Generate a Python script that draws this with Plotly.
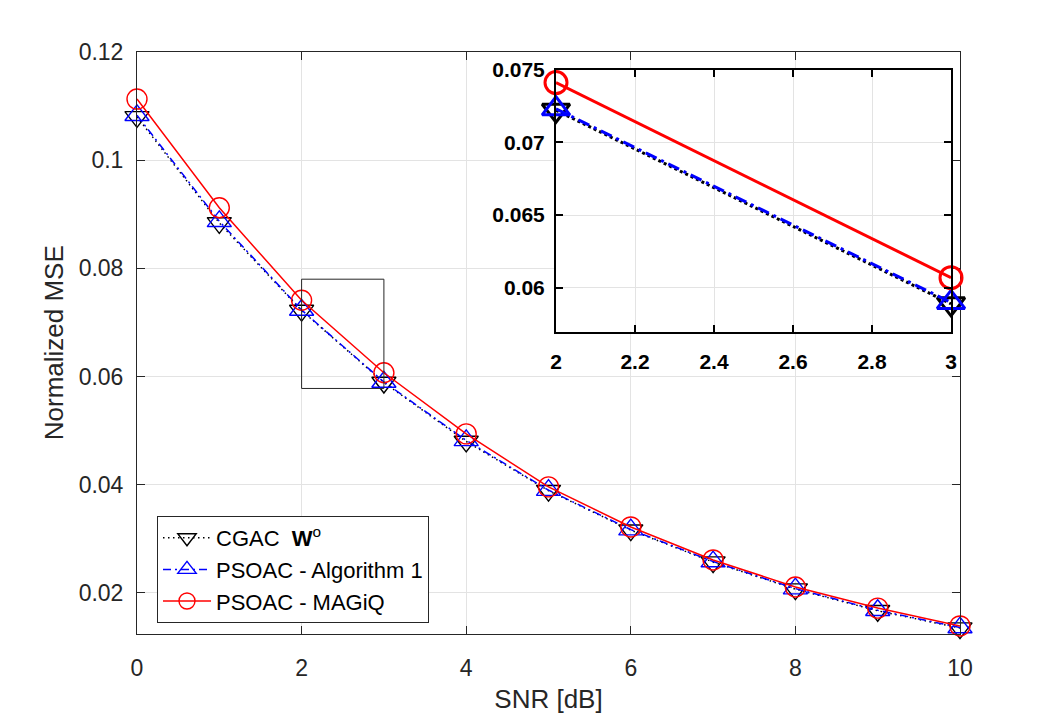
import plotly.graph_objects as go

# ---------------- data ----------------
snr = [0, 1, 2, 3, 4, 5, 6, 7, 8, 9, 10]
cgac_wo = [0.1080, 0.0884, 0.0722, 0.0589, 0.0480, 0.0389, 0.0316, 0.0257, 0.0207, 0.0167, 0.0135]
psoac_alg1 = [0.1083, 0.0887, 0.0723, 0.0590, 0.0482, 0.0390, 0.0317, 0.0258, 0.0208, 0.0168, 0.0136]
psoac_magiq = [0.1113, 0.0912, 0.0741, 0.0607, 0.0494, 0.0396, 0.0322, 0.0261, 0.0211, 0.0172, 0.0139]

series_names = ["CGAC  <b>W</b><sup>o</sup>", "PSOAC - Algorithm 1", "PSOAC - MAGiQ"]

x_ticks = [0, 2, 4, 6, 8, 10]
x_tick_labels = ["0", "2", "4", "6", "8", "10"]
y_ticks = [0.02, 0.04, 0.06, 0.08, 0.1, 0.12]
y_tick_labels = ["0.02", "0.04", "0.06", "0.08", "0.1", "0.12"]

inset_x_ticks = [2, 2.2, 2.4, 2.6, 2.8, 3]
inset_x_labels = ["2", "2.2", "2.4", "2.6", "2.8", "3"]
inset_y_ticks = [0.06, 0.065, 0.07, 0.075]
inset_y_labels = ["0.06", "0.065", "0.07", "0.075"]

zoom_x = [2, 3]
zoom_y = [0.0578, 0.0780]

# ---------------- styles ----------------
FONT = "Liberation Sans, Arial, Helvetica, sans-serif"
AX = "#262626"
GRID = "#e3e3e3"
W, H = 1061, 717

styles = [
    dict(color="black", sym="triangle-down-open", dash_main="1.5px,3.5px", dash_in="3px,3px"),
    dict(color="blue", sym="triangle-up-open", dash_main="8px,4px,2px,4px", dash_in="12px,5px,3px,5px"),
    dict(color="red", sym="circle-open", dash_main="solid", dash_in="solid"),
]
series = [cgac_wo, psoac_alg1, psoac_magiq]

fig = go.Figure()

# main traces
for name, ys, st in zip(series_names, series, styles):
    fig.add_trace(go.Scatter(
        x=snr, y=ys, name=name, mode="lines+markers",
        line=dict(color=st["color"], width=1.5, dash=st["dash_main"]),
        marker=dict(symbol=st["sym"], size=20 if "circle" in st["sym"] else 21,
                    color=st["color"], line=dict(width=1.4, color=st["color"])),
        cliponaxis=False, xaxis="x", yaxis="y",
    ))

# inset traces (SNR between 2 and 3 dB)
i0, i1 = snr.index(zoom_x[0]), snr.index(zoom_x[1]) + 1
for name, ys, st in zip(series_names, series, styles):
    fig.add_trace(go.Scatter(
        x=snr[i0:i1], y=ys[i0:i1], name=name, mode="lines+markers", showlegend=False,
        line=dict(color=st["color"], width=3, dash=st["dash_in"]),
        marker=dict(symbol=st["sym"], size=22 if "circle" in st["sym"] else 24,
                    color=st["color"], line=dict(width=3, color=st["color"])),
        cliponaxis=False, xaxis="x2", yaxis="y2",
    ))

# zoom rectangle
fig.add_shape(type="rect", xref="x", yref="y", x0=zoom_x[0], x1=zoom_x[1],
              y0=zoom_y[0], y1=zoom_y[1], line=dict(color=AX, width=1))

main_dom_x = [137 / W, 960 / W]
main_dom_y = [(H - 633.5) / H, (H - 52) / H]
in_dom_x = [556 / W, 951 / W]
in_dom_y = [(H - 331.5) / H, (H - 69.5) / H]

common = dict(showgrid=True, gridcolor=GRID, gridwidth=1, zeroline=False,
              showline=True, mirror="ticks", ticks="inside", automargin=False)

fig.update_layout(
    width=W, height=H, autosize=False,
    template="none",
    paper_bgcolor="white", plot_bgcolor="white",
    margin=dict(l=0, r=0, t=0, b=0),
    font=dict(family=FONT, color=AX),
    xaxis=dict(domain=main_dom_x, range=[0, 10], anchor="y",
               tickvals=x_ticks, ticktext=x_tick_labels,
               linecolor=AX, linewidth=1, tickcolor=AX, ticklen=8, tickwidth=1,
               tickfont=dict(size=23, color=AX), ticklabelstandoff=14,
               title=dict(text="SNR [dB]", font=dict(size=26, color=AX), standoff=9),
               **common),
    yaxis=dict(domain=main_dom_y, range=[0.0125, 0.12], anchor="x",
               tickvals=y_ticks, ticktext=y_tick_labels,
               linecolor=AX, linewidth=1, tickcolor=AX, ticklen=8, tickwidth=1,
               tickfont=dict(size=23, color=AX), ticklabelstandoff=8,
               title=dict(text="Normalized MSE", font=dict(size=26, color=AX), standoff=7),
               **common),
    xaxis2=dict(domain=in_dom_x, range=[2, 3], anchor="y2",
                tickvals=inset_x_ticks, ticktext=inset_x_labels,
                linecolor="black", linewidth=2, tickcolor="black", ticklen=7, tickwidth=2,
                tickfont=dict(size=21, color="black", weight="bold"), ticklabelstandoff=10,
                **common),
    yaxis2=dict(domain=in_dom_y, range=[0.057, 0.075], anchor="x2",
                tickvals=inset_y_ticks, ticktext=inset_y_labels,
                linecolor="black", linewidth=2, tickcolor="black", ticklen=7, tickwidth=2,
                tickfont=dict(size=21, color="black", weight="bold"), ticklabelstandoff=5,
                **common),
    legend=dict(x=157 / W, y=(H - 516) / H, xanchor="left", yanchor="top",
                bgcolor="white", bordercolor=AX, borderwidth=1,
                font=dict(size=22, color="black", family=FONT),
                tracegroupgap=0, itemwidth=48),
    showlegend=True,
)

fig.write_html("out.html")
